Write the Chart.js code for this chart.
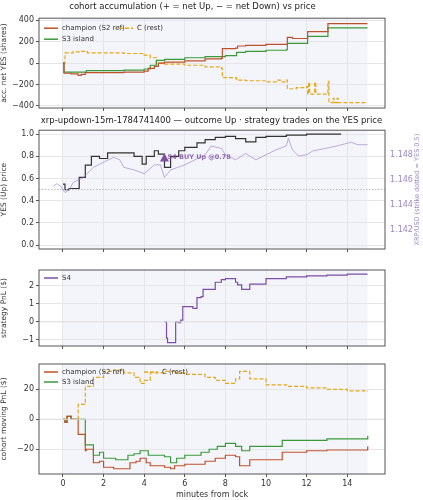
<!DOCTYPE html>
<html><head><meta charset="utf-8">
<script src="https://cdn.jsdelivr.net/npm/chart.js@4"></script>
<style>body{margin:0;background:#fff;width:423px;height:500px;position:relative;overflow:hidden}
.c{position:absolute;left:0;width:423px}</style></head><body>
<div class="c" style="top:0;height:116px"><canvas id="c1"></canvas></div>
<div class="c" style="top:114px;height:143px"><canvas id="c2"></canvas></div>
<div class="c" style="top:262px;height:92px"><canvas id="c3"></canvas></div>
<div class="c" style="top:356px;height:144px"><canvas id="c4"></canvas></div>
<script>
// ---- data ----
const accChampion=[[0,0],[0.05,-95],[0.4,-100],[0.75,-115],[0.9,-105],[1.1,-90],[3,-85],[4,-75],[4.2,-50],[4.5,-30],[4.7,0],[5,10],[6,20],[7,40],[7.8,45],[7.85,135],[8.5,140],[8.6,160],[9,165],[10,175],[11,175],[11.05,240],[11.3,230],[12,230],[12.05,295],[13,295],[13.05,370],[15,370]];
const accS3=[[0,0],[0.05,-85],[1,-85],[1.15,-70],[3,-65],[4,-55],[4.3,-20],[4.6,25],[5,35],[6,50],[7,60],[8,70],[8.5,70],[8.55,100],[9,110],[10,120],[11,125],[11.05,185],[12,185],[12.05,250],[13,250],[13.05,330],[15,330]];
const accC=[[0,0],[0.1,95],[0.5,105],[0.9,110],[1.2,95],[3,90],[4,75],[4.3,50],[4.6,0],[5,-10],[6,-20],[7,-35],[7.8,-50],[7.85,-135],[8.5,-140],[8.55,-160],[9,-165],[10,-175],[10.5,-160],[10.7,-175],[11,-160],[11.05,-240],[11.5,-230],[12,-220],[12.05,-290],[12.1,-180],[12.15,-290],[12.4,-180],[12.45,-290],[13,-290],[13.05,-170],[13.1,-370],[13.3,-330],[13.35,-370],[13.5,-330],[13.55,-370],[15,-370]];
const yesPrice=[[0,0.55],[0.1,0.5],[0.3,0.51],[0.8,0.61],[1.1,0.72],[1.4,0.8],[1.8,0.78],[2.2,0.83],[3,0.83],[3.5,0.8],[3.9,0.73],[4.1,0.8],[4.5,0.85],[4.7,0.82],[5,0.7],[5.3,0.8],[5.7,0.85],[6,0.88],[6.6,0.92],[7,0.95],[7.5,0.97],[8,0.98],[8.5,0.96],[9,0.93],[9.5,0.97],[10,0.98],[11,0.99],[12,1.0],[13.7,1.0]];
const xrpUsd=[[-0.5,1.1455],[-0.3,1.1457],[-0.1,1.1455],[0,1.1452],[0.1,1.1450],[0.3,1.1452],[0.5,1.1458],[1,1.1462],[1.5,1.1470],[2,1.1474],[2.5,1.1478],[2.8,1.1476],[3,1.1470],[3.5,1.1468],[4,1.1465],[4.5,1.1472],[4.8,1.1472],[5,1.1462],[5.3,1.1468],[6,1.1472],[6.5,1.1476],[7,1.1480],[7.3,1.1487],[7.8,1.1485],[8,1.1480],[8.5,1.1476],[9,1.1481],[9.5,1.1476],[10,1.1480],[10.5,1.1484],[11,1.1487],[11.1,1.1493],[11.3,1.1484],[11.6,1.1479],[12,1.1480],[12.3,1.1483],[13.5,1.1487],[14.2,1.1490],[14.5,1.1488],[15,1.1488]];
const strikeYes=0.5;
const tradeS4=[5,0.78];
const pnlS4=[[5,0],[5.1,-0.9],[5.15,-1.15],[5.5,-1.15],[5.55,0],[5.7,-0.05],[5.8,0.1],[5.9,0.85],[6.3,0.85],[6.4,0.75],[6.6,1.35],[6.8,1.4],[6.9,1.8],[7.4,1.8],[7.5,2.2],[7.8,2.35],[8,2.4],[8.5,2.2],[8.6,2.05],[8.8,1.8],[9.2,2.1],[10,2.4],[11,2.5],[12,2.55],[13,2.6],[14,2.65],[15,2.65]];
const pnlChampion=[[0,0],[0.1,-2],[0.2,2],[0.4,0],[0.75,-10],[1.1,-21],[1.15,-20],[1.5,-29],[1.8,-28],[2,-32],[2.5,-33],[3,-33],[3.3,-29],[3.6,-28],[3.8,-26],[4.1,-29],[4.3,-31],[5,-32],[5.3,-33],[5.5,-31],[6,-30],[7,-28],[7.5,-26],[8,-24],[8.5,-25],[8.7,-31],[9.2,-27],[10,-27],[10.8,-22],[12,-21],[13,-20.5],[15,-20],[15.01,-18]];
const pnlS3=[[0,0],[0.1,-2],[0.2,2],[0.4,0],[1.1,-17],[1.5,-24],[1.8,-22],[2,-26],[2.6,-27],[3.2,-24],[3.5,-23],[3.8,-21],[4.2,-24],[5,-25],[5.3,-29],[5.6,-26],[6,-24],[6.8,-22],[7.2,-20],[7.6,-18],[8,-16],[8.5,-18],[8.8,-21],[9.2,-18],[10,-18],[10.8,-14],[12,-14],[13,-13],[15,-13],[15.01,-11]];
const pnlC=[[0,0],[0.1,-1],[0.2,2],[0.4,0],[0.75,10],[1.1,22],[1.5,28],[2,32],[2.5,33],[3,31],[3.5,28],[3.8,24],[4,26],[4.3,31],[5,32],[5.5,31],[6,30],[7,28],[7.5,26],[8,24],[8.5,27],[8.7,32],[9.2,27],[10,23],[11,22],[12,21],[13,20],[14,19],[15,18.5]];
const xTicks=[0,2,4,6,8,10,12,14];
// ---- styling ----
const F='DejaVu Sans', TC='#333';
const COL={ch:'#c0502a',s3:'#3a9a3a',c:'#e6a817',s4:'#7b4ea3',xrp:'rgba(150,120,200,0.6)'};
const pts=a=>a.map(p=>({x:p[0],y:p[1]}));
const XMIN=-1.18,XMAX=15.86;
const frame={id:'frame',beforeDraw(ch){const a=ch.chartArea,c=ch.ctx,x=ch.scales.x;c.save();c.fillStyle='#f4f5fb';const l=x.getPixelForValue(0),r=x.getPixelForValue(15);c.fillRect(l,a.top,r-l,a.bottom-a.top);c.restore();},
 afterDraw(ch){const a=ch.chartArea,c=ch.ctx;c.save();c.strokeStyle='#555';c.lineWidth=1;c.strokeRect(a.left,a.top,a.right-a.left,a.bottom-a.top);
 const o=ch.options.plugins.frame||{};
 if(o.legend){c.font='7px '+F;c.textBaseline='middle';o.legend.forEach(it=>{const x=a.left+it.dx,y=a.top+it.dy;c.strokeStyle=it.color;c.lineWidth=1.5;c.setLineDash(it.dash||[]);c.beginPath();c.moveTo(x,y);c.lineTo(x+14,y);c.stroke();c.setLineDash([]);c.fillStyle=TC;c.fillText(it.label,x+18,y);});}
 if(o.note){const x=ch.scales.x.getPixelForValue(tradeS4[0]),y=ch.scales.y.getPixelForValue(tradeS4[1]);c.fillStyle=COL.s4;c.beginPath();c.moveTo(x,y-5);c.lineTo(x-4.5,y+3);c.lineTo(x+4.5,y+3);c.closePath();c.fill();c.font='bold 6.5px '+F;c.textBaseline='middle';c.fillStyle='rgba(123,78,163,0.85)';c.fillText('S4 BUY Up @0.78',x+3,y-1.5);
 c.save();c.translate(ch.width-6,(a.top+a.bottom)/2);c.rotate(-Math.PI/2);c.textAlign='center';c.font='6.5px '+F;c.fillStyle='#9b87c7';c.fillText('XRP/USD (strike dotted = YES 0.5)',0,0);c.restore();}
 c.restore();}};
function xScale(labels,h){return {type:'linear',min:XMIN,max:XMAX,afterBuildTicks:s=>{s.ticks=xTicks.map(v=>({value:v}))},
 grid:{color:'#e6e6ea',tickColor:'#555',tickLength:3},border:{display:false},
 ticks:{display:labels,color:TC,font:{family:F,size:8},maxRotation:0,padding:2},
 title:{display:labels,text:'minutes from lock',color:TC,font:{family:F,size:8},padding:{top:1,bottom:0}},afterFit:s=>{s.height=h}};}
function yScale(min,max,ticks,title,extra){return Object.assign({min,max,afterBuildTicks:s=>{s.ticks=ticks.map(v=>({value:v}))},
 grid:{color:'#e6e6ea',tickColor:'#555',tickLength:3},border:{display:false},
 ticks:{color:TC,font:{family:F,size:8},padding:2,callback:v=>String(v).replace('-','−')},
 title:{display:true,text:title,color:TC,font:{family:F,size:7.5},padding:{top:0,bottom:1}},afterFit:s=>{s.width=39}},extra||{});}
const line=(d,c,o)=>Object.assign({data:pts(d),borderColor:c,borderWidth:1.2,pointRadius:0,stepped:true,fill:false},o||{});
Chart.defaults.animation=false;Chart.defaults.responsive=true;Chart.defaults.maintainAspectRatio=false;
const titleOpt=(t,pb)=>({display:true,text:t,color:'#222',font:{family:F,size:8.5,weight:'normal'},padding:{top:2,bottom:pb}});
// chart 1
new Chart(c1,{type:'line',data:{datasets:[line(accChampion,COL.ch),line(accS3,COL.s3),line(accC,COL.c,{borderDash:[4,2]})]},
 options:{layout:{padding:{right:38,left:0}},scales:{x:xScale(false,8),y:yScale(-420,420,[400,200,0,-200,-400],'acc. net YES (shares)')},
 plugins:{legend:{display:false},tooltip:{enabled:false},title:titleOpt('cohort accumulation (+ = net Up, − = net Down) vs price',6),
 frame:{legend:[{dx:5,dy:10,color:COL.ch,label:'champion (S2 ref)'},{dx:5,dy:21,color:COL.s3,label:'S3 island'},{dx:80,dy:10,color:COL.c,dash:[4,2],label:'C (rest)'}]}}},plugins:[frame]});
// chart 2
new Chart(c2,{type:'line',data:{datasets:[
 line(xrpUsd,COL.xrp,{stepped:false,borderWidth:1,yAxisID:'y2'}),
 line([[XMIN,strikeYes],[XMAX,strikeYes]],'#bbb',{stepped:false,borderWidth:1,borderDash:[1.5,1.5]}),
 line(yesPrice,'#333')]},
 options:{layout:{padding:{right:0}},scales:{x:xScale(false,8),y:yScale(-0.035,1.035,[0,0.2,0.4,0.6,0.8,1.0],'YES (Up) price',{ticks:{color:TC,font:{family:F,size:8},padding:2,callback:v=>v.toFixed(1)}}),
 y2:{position:'right',min:1.14052,max:1.14995,afterBuildTicks:s=>{s.ticks=[1.142,1.144,1.146,1.148].map(v=>({value:v}))},grid:{display:false,tickColor:'#9b87c7',tickLength:3},border:{display:false},
 ticks:{color:'#9b87c7',font:{family:F,size:8},padding:2,callback:v=>v.toFixed(3)},title:{display:false},afterFit:s=>{s.width=38}}},
 plugins:{legend:{display:false},tooltip:{enabled:false},title:titleOpt('xrp-updown-15m-1784741400 — outcome Up · strategy trades on the YES price',4),frame:{note:true}}},plugins:[frame]});
// chart 3
new Chart(c3,{type:'line',data:{datasets:[line([[XMIN,0],[XMAX,0]],'#e0e0e4',{stepped:false,borderWidth:1}),line(pnlS4,COL.s4)]},
 options:{layout:{padding:{right:38,top:8}},scales:{x:xScale(false,8),y:yScale(-1.34,2.88,[-1,0,1,2],'strategy PnL ($)')},
 plugins:{legend:{display:false},tooltip:{enabled:false},frame:{legend:[{dx:5,dy:8,color:COL.s4,label:'S4'}]}}},plugins:[frame]});
// chart 4
new Chart(c4,{type:'line',data:{datasets:[line([[XMIN,0],[XMAX,0]],'#e0e0e4',{stepped:false,borderWidth:1}),line(pnlChampion,COL.ch),line(pnlS3,COL.s3),line(pnlC,COL.c,{borderDash:[4,2]})]},
 options:{layout:{padding:{right:38,top:8}},scales:{x:xScale(true,26),y:yScale(-36.5,36.9,[-20,0,20],'cohort moving PnL ($)')},
 plugins:{legend:{display:false},tooltip:{enabled:false},frame:{legend:[{dx:5,dy:8,color:COL.ch,label:'champion (S2 ref)'},{dx:5,dy:18,color:COL.s3,label:'S3 island'},{dx:105,dy:8,color:COL.c,dash:[4,2],label:'C (rest)'}]}}},plugins:[frame]});
</script></body></html>
